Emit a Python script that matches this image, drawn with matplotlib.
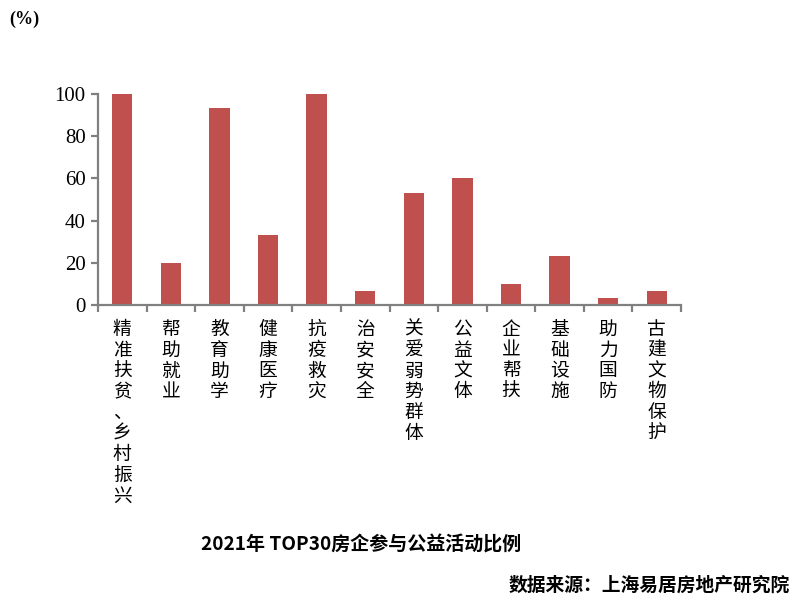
import matplotlib
matplotlib.use("Agg")
import matplotlib.pyplot as plt
import numpy as np

categories = ["精准扶贫、乡村振兴", "帮助就业", "教育助学", "健康医疗", "抗疫救灾", "治安安全",
              "关爱弱势群体", "公益文体", "企业帮扶", "基础设施", "助力国防", "古建文物保护"]
values = [100, 20, 93.3, 33.3, 100, 6.7, 53.3, 60, 10, 23.3, 3.3, 6.7]
yticks = [0, 20, 40, 60, 80, 100]

title = "2021年 TOP30房企参与公益活动比例"
source = "数据来源：上海易居房地产研究院"
unit = "(%)"

cjk = ["Noto Sans CJK SC", "DejaVu Sans"]
serif = ["Liberation Serif", "DejaVu Serif"]

fig = plt.figure(figsize=(7.99, 6.02), dpi=100)
ax = fig.add_axes([98/799, 1-305/602, (681-98)/799, (305-94)/602])

x = np.arange(len(categories))
ax.bar(x, values, width=0.42, color="#C0504D", zorder=2)
ax.set_xlim(-0.5, len(categories)-0.5)
ax.set_ylim(0, 100)

for s in ["top", "right"]:
    ax.spines[s].set_visible(False)
for s in ["left", "bottom"]:
    ax.spines[s].set_color("#808080")
    ax.spines[s].set_linewidth(1.6)

ax.set_yticks(yticks)
ax.set_yticklabels([str(v) for v in yticks], fontfamily=serif, fontsize=15)
ax.tick_params(axis="y", direction="out", length=5, width=1.6, color="#808080", pad=4)

ax.set_xticks(np.arange(len(categories)+1) - 0.5)
ax.set_xticklabels([])
ax.tick_params(axis="x", direction="out", length=5, width=1.6, color="#808080")

for i, c in enumerate(categories):
    ax.text(i, -6.5, "\n".join(list(c)), ha="center", va="top", fontsize=13.5,
            family=cjk, linespacing=0.99, transform=ax.transData, clip_on=False)

fig.text(9/799, 1-19/602, unit, ha="left", va="center", fontsize=13,
         fontweight="bold", family=serif)
fig.text(361/799, 1-545/602, title, ha="center", va="center", fontsize=13.7,
         fontweight="bold", family=cjk)
fig.text(790/799, 1-585/602, source, ha="right", va="center", fontsize=13.5,
         fontweight="bold", family=cjk)

fig.savefig("out.png", dpi=100)
